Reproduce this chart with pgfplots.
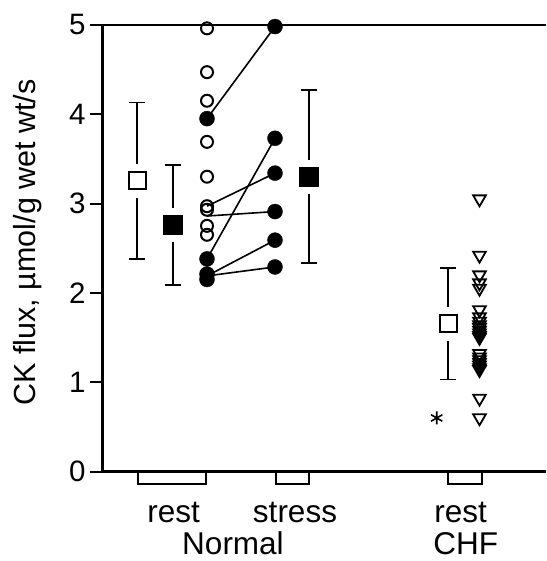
\documentclass[border=0pt]{standalone}
\usepackage{fontspec}
\setmainfont{Liberation Sans}
\usepackage{pgfplots}
\pgfplotsset{compat=1.18}
\begin{document}
\begin{tikzpicture}[x=1pt,y=1pt]
\useasboundingbox (0,0) rectangle (546,561);
\begin{axis}[
  at={(102pt,89.4pt)}, anchor=south west,
  x=1pt, y=89.36pt,
  xmin=102, xmax=546, ymin=0, ymax=5,
  axis lines*=left,
  axis line style={-, black},
  y axis line style={line width=3pt},
  x axis line style={line width=2.2pt},
  ytick={0,1,2,3,4,5}, xtick=\empty,
  tick align=outside, major tick length=12pt,
  tick style={line width=2pt, black},
  /pgf/number format/assume math mode=true,
  yticklabel style={font=\fontsize{29.5}{34}\selectfont, anchor=east, xshift=-1pt},
  clip=false,
]
% top frame line
\draw[line width=2.2pt] (axis cs:102,5) -- (axis cs:546,5);

% group boxes below the axis
\draw[line width=2pt] (axis cs:137.7,0) rectangle (axis cs:205.7,-0.14);
\draw[line width=2pt] (axis cs:276,0) rectangle (axis cs:309,-0.14);
\draw[line width=2pt] (axis cs:448.3,0) rectangle (axis cs:481.7,-0.14);

% paired rest -> stress lines
\addplot[line width=1.6pt, black] coordinates {(207,3.95) (275,4.98)};
\addplot[line width=1.6pt, black] coordinates {(207,2.38) (275,3.73)};
\addplot[line width=1.6pt, black] coordinates {(207,2.97) (275,3.34)};
\addplot[line width=1.6pt, black] coordinates {(207,2.86) (275,2.91)};
\addplot[line width=1.6pt, black] coordinates {(207,2.19) (275,2.59)};
\addplot[line width=1.6pt, black] coordinates {(207,2.19) (275,2.29)};

% normal rest, open circles
\addplot[only marks, mark=o, mark size=6pt, mark options={line width=2pt, draw=black, fill=white}]
  coordinates {(207,4.96) (207,4.47) (207,4.15) (207,3.69) (207,3.30) (207,2.97) (207,2.93) (207,2.75) (207,2.65)};

% normal rest, filled circles
\addplot[only marks, mark=*, mark size=7.5pt, mark options={draw=black, fill=black}]
  coordinates {(207,3.95) (207,2.38) (207,2.21) (207,2.15)};

% normal stress, filled circles
\addplot[only marks, mark=*, mark size=7.5pt, mark options={draw=black, fill=black}]
  coordinates {(275,4.98) (275,3.73) (275,3.34) (275,2.91) (275,2.59) (275,2.29)};

% CHF rest, open down triangles
\addplot[only marks, mark=triangle, mark size=7.3pt, mark options={line width=1.8pt, draw=black, rotate=180}]
  coordinates {(479.5,3.05) (479.5,2.42) (479.5,2.20) (479.5,2.11) (479.5,2.05)
    (479.5,1.81) (479.5,1.73) (479.5,1.68) (479.5,1.64) (479.5,1.61) (479.5,1.58)
    (479.5,1.55) (479.5,1.52) (479.5,1.50) (479.5,1.32) (479.5,1.28) (479.5,1.25)
    (479.5,1.22) (479.5,1.19) (479.5,1.16) (479.5,1.14) (479.5,0.82) (479.5,0.60)};

% asterisk
\addplot[only marks, mark=asterisk, mark size=6.5pt, mark options={line width=1.6pt, draw=black}]
  coordinates {(436.7,0.60)};

% mean +- SD error bars
\addplot[draw=none, mark=none, forget plot,
  error bars/.cd, y dir=both, y explicit,
  error bar style={draw=black, line width=1.8pt},
  error mark options={draw=black, line width=1.8pt, mark size=7.8pt, rotate=90}]
  coordinates {(137,3.255) +- (0,0.875) (173,2.76) +- (0,0.67) (309,3.30) +- (0,0.97) (448,1.655) +- (0,0.625)};

% white gaps round the means
\addplot[only marks, mark=square*, mark size=16.5pt, mark options={draw=white, fill=white}]
  coordinates {(137,3.255) (173,2.76) (309,3.30) (448,1.655)};

% means
\addplot[only marks, mark=square, mark size=8.5pt, mark options={line width=2pt, draw=black, fill=white}]
  coordinates {(137,3.255) (448,1.655)};
\addplot[only marks, mark=square*, mark size=9.5pt, mark options={draw=black, fill=black}]
  coordinates {(173,2.76) (309,3.30)};

% labels
\node[rotate=90, anchor=base, font=\fontsize{30.5}{36}\selectfont] at (axis cs:36,2.565) {CK flux, µmol/g wet wt/s};
\node[anchor=base, inner sep=0pt, font=\fontsize{31.5}{36}\selectfont] at (axis cs:173.7,-0.575) {rest};
\node[anchor=base, inner sep=0pt, font=\fontsize{31.5}{36}\selectfont] at (axis cs:295,-0.575) {stress};
\node[anchor=base, inner sep=0pt, font=\fontsize{31.5}{36}\selectfont] at (axis cs:233,-0.93) {Normal};
\node[anchor=base, inner sep=0pt, font=\fontsize{31.5}{36}\selectfont] at (axis cs:460.7,-0.575) {rest};
\node[anchor=base, inner sep=0pt, font=\fontsize{31.5}{36}\selectfont] at (axis cs:465.7,-0.93) {CHF};
\end{axis}
\end{tikzpicture}
\end{document}
